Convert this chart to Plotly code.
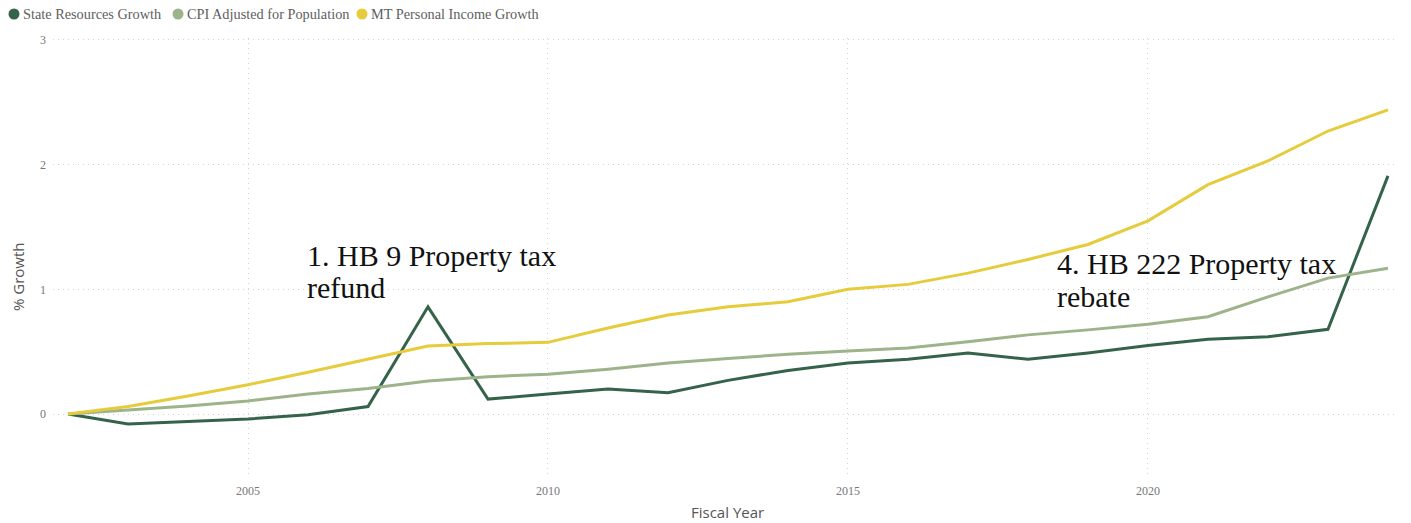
import plotly.graph_objects as go

# Fiscal years and cumulative growth (fraction of 2002 base)
years = list(range(2002, 2025))

state_resources = [0.00, -0.08, -0.06, -0.04, -0.005, 0.06, 0.86, 0.12, 0.16, 0.20,
                   0.17, 0.27, 0.35, 0.41, 0.44, 0.49, 0.44, 0.49, 0.55, 0.60,
                   0.62, 0.68, 1.91]
cpi_population = [0.00, 0.03, 0.065, 0.105, 0.16, 0.205, 0.265, 0.30, 0.32, 0.36,
                  0.41, 0.445, 0.48, 0.505, 0.53, 0.58, 0.635, 0.675, 0.72, 0.78,
                  0.94, 1.09, 1.17]
mt_income = [0.00, 0.06, 0.145, 0.235, 0.335, 0.44, 0.545, 0.565, 0.575, 0.69,
             0.795, 0.86, 0.90, 1.00, 1.04, 1.13, 1.24, 1.36, 1.55, 1.84,
             2.03, 2.27, 2.44]

series_names = ["State Resources Growth", "CPI Adjusted for Population",
                "MT Personal Income Growth"]
series_values = [state_resources, cpi_population, mt_income]
series_colors = ["#35634A", "#9DB38A", "#E6CB3A"]

x_ticks = [2005, 2010, 2015, 2020]
y_ticks = [0, 1, 2, 3]

notes = [
    ("1. HB 9 Property tax", "refund"),
    ("4. HB 222 Property tax", "rebate"),
]

# page geometry (pixels)
W, H = 1411, 523
ML, MR, MT, MB = 53, 13, 38, 45
PW, PH = W - ML - MR, H - MT - MB


def px(x):
    return (x - ML) / PW


def py(y):
    return (H - MB - y) / PH


fig = go.Figure()
for name, vals, col in zip(series_names, series_values, series_colors):
    fig.add_trace(go.Scatter(x=years, y=vals, mode="lines", name=name,
                             line=dict(color=col, width=3),
                             showlegend=False))

shapes = []
annotations = []

# white boxes behind the note texts (hide gridlines, not the lines)
for (x0, x1, y0, y1) in [(300, 635, 225, 303), (1053, 1343, 253, 317)]:
    shapes.append(dict(type="rect", xref="paper", yref="paper",
                       x0=px(x0), x1=px(x1), y0=py(y1), y1=py(y0),
                       fillcolor="white", line=dict(width=0), layer="between"))

note_pos = [(305, 255.5, 32), (1055, 263, 33)]
for (l1, l2), (nx, ny, gap) in zip(notes, note_pos):
    for i, t in enumerate([l1, l2]):
        annotations.append(dict(text=t, xref="paper", yref="paper",
                                x=px(nx), y=py(ny + i * gap),
                                xanchor="left", yanchor="middle",
                                showarrow=False,
                                font=dict(family="Liberation Serif", size=30,
                                          color="#111111")))

# legend row
leg_x = [14, 178, 362]
for name, col, lx in zip(series_names, series_colors, leg_x):
    r = 5.5
    shapes.append(dict(type="circle", xref="paper", yref="paper",
                       x0=px(lx - r), x1=px(lx + r), y0=py(14 + r), y1=py(14 - r),
                       fillcolor=col, line=dict(width=0)))
    annotations.append(dict(text=name, xref="paper", yref="paper",
                            x=px(lx + 7), y=py(14), xanchor="left",
                            yanchor="middle", showarrow=False,
                            font=dict(family="Liberation Serif", size=14.3,
                                      color="#606060")))

# axis titles
annotations.append(dict(text="% Growth", xref="paper", yref="paper",
                        x=px(18), y=py(277), textangle=-90,
                        xanchor="center", yanchor="middle", showarrow=False,
                        font=dict(family="Open Sans", size=15, color="#555555")))
annotations.append(dict(text="Fiscal Year", xref="paper", yref="paper",
                        x=px(728), y=py(512), xanchor="center",
                        yanchor="middle", showarrow=False,
                        font=dict(family="Open Sans", size=15, color="#555555")))

grid = dict(showgrid=True, gridcolor="#D4D4D4", griddash="1px,4px", gridwidth=1,
            zeroline=False, showline=False, ticks="")

fig.update_layout(
    width=W, height=H,
    margin=dict(l=ML, r=MR, t=MT, b=MB),
    paper_bgcolor="white", plot_bgcolor="white",
    shapes=shapes, annotations=annotations,
    xaxis=dict(range=[2001.75, 2024.167], tickvals=x_ticks,
               tickfont=dict(family="Liberation Serif", size=12, color="#777777"),
               ticklabelstandoff=4, **grid),
    yaxis=dict(range=[-0.513, 3.016], tickvals=y_ticks,
               tickfont=dict(family="Liberation Serif", size=12, color="#777777"),
               ticklabelstandoff=6, **grid),
)

fig.write_html("out.html")
